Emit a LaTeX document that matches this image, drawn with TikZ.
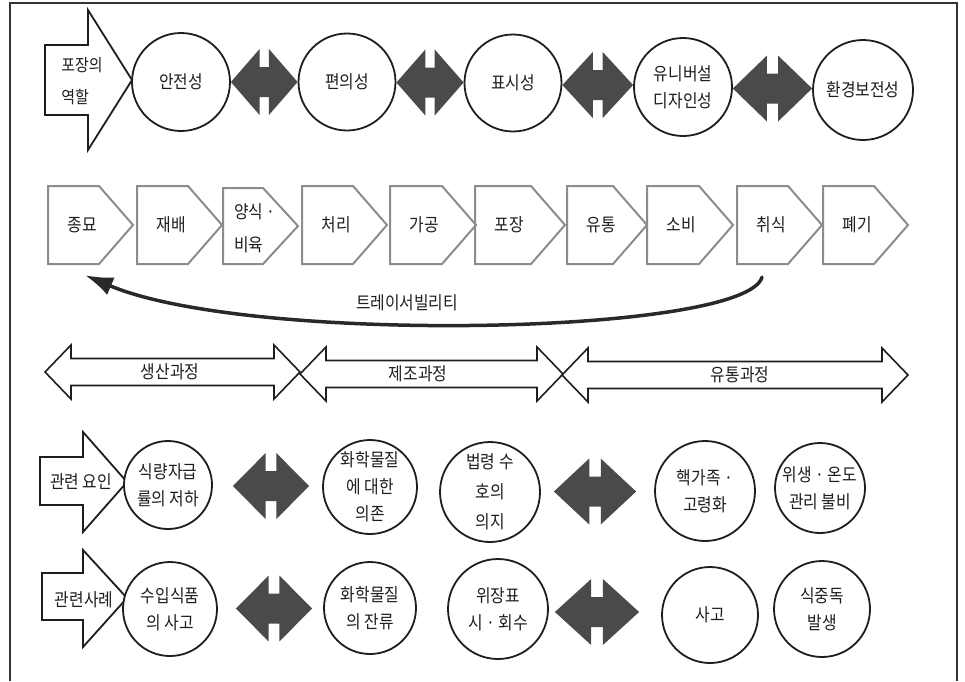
\documentclass[tikz,border=0pt]{standalone}
\usepackage{fontspec}
\setmainfont{Noto Sans CJK KR}[FakeStretch=0.88]
\usetikzlibrary{arrows.meta,calc}
\definecolor{ink}{HTML}{1E1E1E}
\definecolor{darkfill}{HTML}{4A4A4A}
\definecolor{pentgray}{HTML}{8C8C8C}
\tikzset{
  lab/.style={font=\fontsize{18}{27}\selectfont, text=ink, inner sep=0pt},
  circ/.style={lab, circle, draw=ink, line width=1.8pt, fill=white, align=center},
  pentlab/.style={lab, minimum width=68pt, minimum height=78pt},
  pentline/.style={draw=pentgray, line width=2pt, line join=miter},
  procline/.style={draw=ink, line width=1.6pt, fill=white, line join=miter},
  blockline/.style={draw=ink, line width=1.8pt, fill=white, line join=miter},
  darkarr/.style={fill=darkfill},
  frameline/.style={draw=ink!90, line width=1.6pt},
  traceline/.style={draw=ink!95, line width=3.5pt, line cap=round, -{Latex[length=28pt,width=19pt]}}
}
\newcommand\darkarrow[4]{%
 \fill[darkarr] let \p1=(#1.east), \p2=(#2.west), \n1={\x1+#3pt}, \n2={\x2-#4pt}, \n3={(\y1+\y2)/2}, \n4={(\n2-\n1)*0.43} in
 (\n1,\n3) -- (\n1+\n4,\n3+33pt) -- (\n1+\n4,\n3+15pt) -- (\n2-\n4,\n3+15pt) -- (\n2-\n4,\n3+33pt) -- (\n2,\n3)
 -- (\n2-\n4,\n3-33pt) -- (\n2-\n4,\n3-15pt) -- (\n1+\n4,\n3-15pt) -- (\n1+\n4,\n3-33pt) -- cycle;}
\newcommand\mypent[4]{%
 \draw[pentline] (#2,186) -- (#2+#3-34,186) -- (#2+#3,225) -- (#2+#3-34,264) -- (#2,264) -- cycle;
 \node[pentlab] (#1) at (#2+34,225) {#4};}
\newcommand\myproc[6]{%
 \draw[procline] (#2,#4) -- (#2+26,#4-27) -- (#2+26,#4-13.5) -- (#3-26,#4-13.5) -- (#3-26,#4-27) -- (#3,#4)
 -- (#3-26,#4+27) -- (#3-26,#4+13.5) -- (#2+26,#4+13.5) -- (#2+26,#4+27) -- cycle;
 \node[lab] (#1) at (#6,#4) {#5};}
\begin{document}
\begin{tikzpicture}[x=1pt,y=-1pt]
\useasboundingbox (0,0) rectangle (965,681);
% frame
\draw[frameline] (10,681) -- (10,3) -- (957,3) -- (957,681);

% ---- row 1 : roles of packaging
\draw[blockline] (45,45) -- (88,45) -- (88,10) -- (132,80) -- (88,150) -- (88,115) -- (45,115) -- cycle;
\node[lab, align=left, font=\fontsize{17}{32}\selectfont] (role) at (82,81) {포장의\\역할};
\node[circ, minimum size=98pt] (c1) at (181,82) {안전성};
\node[circ, minimum size=97pt] (c2) at (347,82) {편의성};
\node[circ, minimum size=97pt] (c3) at (513,83) {표시성};
\node[circ, minimum size=98pt] (c4) at (683,87) {유니버설\\디자인성};
\node[circ, minimum size=100pt] (c5) at (863,90) {환경보전성};
\darkarrow{c1}{c2}{0}{0}
\darkarrow{c2}{c3}{0}{0}
\darkarrow{c3}{c4}{0}{0}
\darkarrow{c4}{c5}{0}{0}

% ---- row 2 : chain
\mypent{p1}{48}{85}{종묘}
\mypent{p2}{137}{85}{재배}
\draw[pentline] (223,188) -- (263,188) -- (298,226) -- (263,264) -- (223,264) -- cycle;
\node[lab, align=left, font=\fontsize{18}{33}\selectfont] (p3) at (255,228) {양식 ·\\비육};
\mypent{p4}{302}{85}{처리}
\mypent{p5}{390}{86}{가공}
\mypent{p6}{475}{90}{포장}
\mypent{p7}{567}{80}{유통}
\mypent{p8}{647}{86}{소비}
\mypent{p9}{737}{85}{취식}
\mypent{p10}{823}{85}{폐기}

% traceability
\draw[traceline] ([shift={(-9,13)}]p9.south) .. controls (745,335) and (250,345) .. ([shift={(3,11)}]p1.south);
\node[lab] (tr) at (407,303) {트레이서빌리티};

% ---- row 3 : processes
\myproc{pa}{45}{300}{372}{생산과정}{170}
\myproc{pb}{300}{563}{374}{제조과정}{418}
\myproc{pc}{562}{908}{375}{유통과정}{740}

% ---- row 4 : related factors
\draw[blockline] (40,457) -- (83,457) -- (83,432) -- (127,482) -- (83,532) -- (83,505) -- (40,505) -- cycle;
\node[lab] (fac) at (81,482) {관련 요인};
\node[circ, minimum size=88pt] (r1) at (168,485) {식량자급\\률의 저하};
\node[circ, minimum size=94pt] (r2) at (370,487) {화학물질\\에 대한\\의존};
\node[circ, minimum size=100pt, font=\fontsize{18}{30}\selectfont] (r3) at (490,492) {법령 수\\호의\\의지};
\node[circ, minimum size=100pt] (r4) at (705,491) {핵가족 ·\\고령화};
\node[circ, minimum size=90pt] (r5) at (820,488) {위생 · 온도\\관리 불비};
\darkarrow{r1}{r2}{20}{13}
\darkarrow{r3}{r4}{13}{18}

% ---- row 5 : related cases
\draw[blockline] (42,573) -- (83,573) -- (83,550) -- (127,598) -- (83,647) -- (83,620) -- (42,620) -- cycle;
\node[lab] (cas) at (84,600) {관련사례};
\node[circ, minimum size=94pt] (s1) at (170,609) {수입식품\\의 사고};
\node[circ, minimum size=92pt] (s2) at (370,608) {화학물질\\의 잔류};
\node[circ, minimum size=100pt] (s3) at (498,609) {위장표\\시 · 회수};
\node[circ, minimum size=96pt] (s4) at (710,615) {사고};
\node[circ, minimum size=96pt] (s5) at (822,609) {식중독\\발생};
\darkarrow{s1}{s2}{18}{11}
\darkarrow{s3}{s4}{6}{22}
\end{tikzpicture}
\end{document}
